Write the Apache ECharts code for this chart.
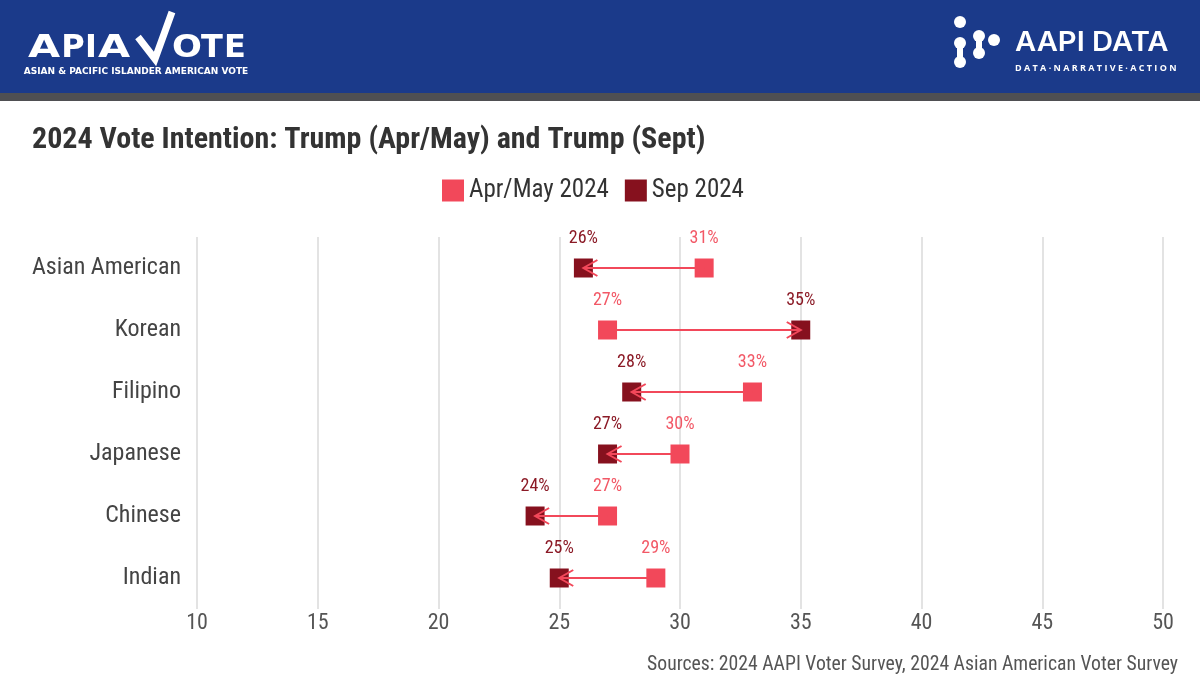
<!DOCTYPE html>
<html>
<head>
<meta charset="utf-8">
<script src="https://cdn.jsdelivr.net/npm/echarts@6/dist/echarts.min.js"></script>
<style>html,body{margin:0;padding:0;background:#fff}#c{width:1200px;height:686px}</style>
</head>
<body>
<div id="c"></div>
<script>
const categories = ['Asian American', 'Korean', 'Filipino', 'Japanese', 'Chinese', 'Indian'];
const aprMay2024 = [31, 27, 33, 30, 27, 29];
const sep2024 = [26, 35, 28, 27, 24, 25];
const xTicks = [10, 15, 20, 25, 30, 35, 40, 45, 50];

const FONT = '"Roboto Condensed", "Liberation Sans Narrow", "DejaVu Sans Condensed", Roboto, sans-serif';
const LOGO_FONT = '"DejaVu Sans", "Open Sans", sans-serif';
const APR_COLOR = '#f2485a';
const SEP_COLOR = '#86111e';

const chart = echarts.init(document.getElementById('c'), null, {renderer: 'canvas'});

const aprData = categories.map((c, i) => [aprMay2024[i], c]);
const sepData = categories.map((c, i) => [sep2024[i], c]);
const arrowData = categories.map((c, i) => [aprMay2024[i], sep2024[i], i]);

function logoLetter(ch, cx, sx) {
  return {type: 'text', x: cx, y: 49, scaleX: sx, silent: true,
    style: {text: ch, fill: '#fff', font: 'bold 32px ' + LOGO_FONT, textAlign: 'center', textVerticalAlign: 'middle'}};
}

const option = {
  backgroundColor: '#ffffff',
  animation: false,
  textStyle: {fontFamily: FONT},
  graphic: [
    {type: 'rect', shape: {x: 0, y: 0, width: 1200, height: 93}, style: {fill: '#1b3a8a'}, silent: true},
    {type: 'rect', shape: {x: 0, y: 93, width: 1200, height: 8}, style: {fill: '#4f4f52'}, silent: true},
    logoLetter('A', 44, 1.3), logoLetter('P', 73, 1.0), logoLetter('I', 91, 1.0), logoLetter('A', 114, 1.3),
    {type: 'polyline', shape: {points: [[138, 37], [155, 59], [172, 12]]}, style: {stroke: '#fff', lineWidth: 7, fill: null, lineJoin: 'miter'}},
    logoLetter('O', 187, 1.1), logoLetter('T', 212, 1.0), logoLetter('E', 235, 1.0),
    {type: 'text', x: 136, y: 72, silent: true,
      style: {text: 'ASIAN & PACIFIC ISLANDER AMERICAN VOTE', fill: '#fff', font: 'bold 9px ' + LOGO_FONT, textAlign: 'center', textVerticalAlign: 'middle'}},
    {type: 'circle', shape: {cx: 960, cy: 22, r: 6}, style: {fill: '#fff'}},
    {type: 'circle', shape: {cx: 960, cy: 43, r: 6}, style: {fill: '#fff'}},
    {type: 'circle', shape: {cx: 960, cy: 62, r: 6}, style: {fill: '#fff'}},
    {type: 'line', shape: {x1: 960, y1: 43, x2: 960, y2: 62}, style: {stroke: '#fff', lineWidth: 6}},
    {type: 'circle', shape: {cx: 979, cy: 36, r: 6}, style: {fill: '#fff'}},
    {type: 'circle', shape: {cx: 979, cy: 53, r: 6}, style: {fill: '#fff'}},
    {type: 'line', shape: {x1: 979, y1: 36, x2: 979, y2: 53}, style: {stroke: '#fff', lineWidth: 6}},
    {type: 'circle', shape: {cx: 994, cy: 40, r: 6}, style: {fill: '#fff'}},
    {type: 'text', x: 1015, y: 43, scaleX: 1.08, silent: true,
      style: {text: 'AAPI DATA', fill: '#fff', font: '600 27px Inter, "Open Sans", sans-serif', textVerticalAlign: 'middle'}},
    {type: 'text', x: 1015, y: 68, silent: true,
      style: {text: 'D A T A · N A R R A T I V E · A C T I O N', fill: '#fff', font: 'bold 9px "Open Sans", sans-serif', textVerticalAlign: 'middle'}},
    {type: 'text', left: 32, top: 125, style: {text: '2024 Vote Intention: Trump (Apr/May) and Trump (Sept)', fill: '#333', font: 'bold 30px ' + FONT}},
    {type: 'text', right: 22, top: 655, style: {text: 'Sources: 2024 AAPI Voter Survey, 2024 Asian American Voter Survey', fill: '#555', font: '19.7px ' + FONT}}
  ],
  legend: {
    left: 437, top: 173,
    itemWidth: 22, itemHeight: 22, itemGap: 16,
    icon: 'rect',
    textStyle: {fontSize: 25, color: '#333', fontFamily: FONT},
    data: ['Apr/May 2024', 'Sep 2024']
  },
  grid: {left: 197, right: 37, top: 237, bottom: 77, containLabel: false},
  xAxis: {
    type: 'value', min: 10, max: 50, interval: 5,
    axisLine: {show: false}, axisTick: {show: false},
    axisLabel: {fontSize: 22, color: '#555', margin: 3, fontFamily: FONT,
      customValues: xTicks},
    splitLine: {show: true, lineStyle: {color: '#e3e3e3', width: 2}}
  },
  yAxis: {
    type: 'category', inverse: true, data: categories,
    axisLine: {show: false}, axisTick: {show: false},
    axisLabel: {fontSize: 24, color: '#444', margin: 16, fontFamily: FONT},
    splitLine: {show: false}
  },
  series: [
    {
      name: 'Apr/May 2024', type: 'scatter', symbol: 'rect', symbolSize: 19,
      itemStyle: {color: APR_COLOR, opacity: 1}, z: 2,
      data: aprData,
      label: {show: true, position: 'top', distance: 11, formatter: p => p.value[0] + '%',
        color: '#f25866', fontSize: 18, fontFamily: FONT}
    },
    {
      name: 'Sep 2024', type: 'scatter', symbol: 'rect', symbolSize: 19,
      itemStyle: {color: SEP_COLOR, opacity: 1}, z: 3,
      data: sepData,
      label: {show: true, position: 'top', distance: 11, formatter: p => p.value[0] + '%',
        color: '#8b1a26', fontSize: 18, fontFamily: FONT}
    },
    {
      name: 'arrows', type: 'custom', z: 4, silent: true,
      encode: {x: [0, 1], y: 2},
      data: arrowData,
      renderItem: function (params, api) {
        const s = api.coord([api.value(0), api.value(2)]);
        const e = api.coord([api.value(1), api.value(2)]);
        const dir = e[0] >= s[0] ? 1 : -1;
        return {
          type: 'group',
          children: [
            {type: 'line', shape: {x1: s[0], y1: s[1], x2: e[0], y2: e[1]},
              style: {stroke: APR_COLOR, lineWidth: 2}},
            {type: 'polyline', shape: {points: [[e[0] - dir * 14, e[1] - 8], [e[0], e[1]], [e[0] - dir * 14, e[1] + 8]]},
              style: {stroke: APR_COLOR, lineWidth: 2, fill: null}}
          ]
        };
      }
    }
  ]
};
chart.setOption(option);
</script>
</body>
</html>
